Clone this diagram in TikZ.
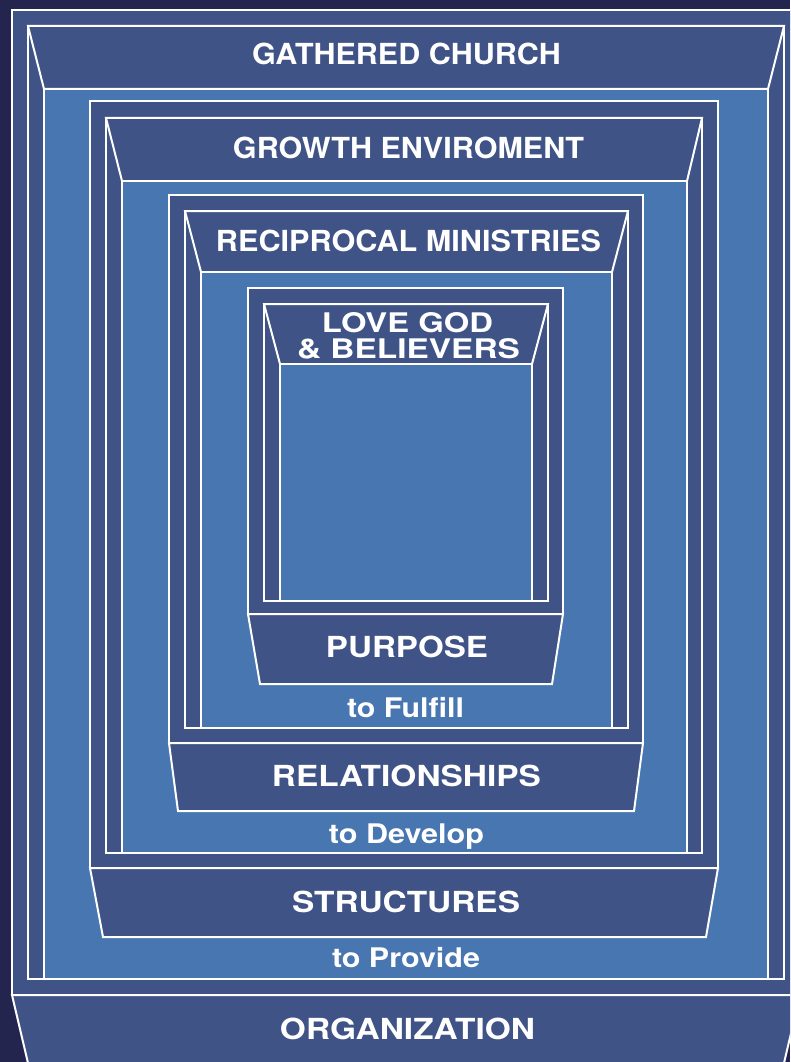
\documentclass[tikz,border=0pt]{standalone}
\usepackage{fontspec}
\setmainfont{TeX Gyre Heros}
\usepackage{graphicx}
\definecolor{bgnavy}{HTML}{24254E}
\definecolor{darkfill}{HTML}{3F5386}
\definecolor{lightfill}{HTML}{4876B1}
\newcommand{\mylab}[2]{\resizebox{#1pt}{\height}{#2}}
\tikzset{
  darkbox/.style={fill=darkfill, draw=white, line width=2pt, line join=miter},
  lightbox/.style={fill=lightfill, draw=white, line width=2pt, line join=miter},
  head/.style={text=white, inner sep=0pt, anchor=base, font=\fontsize{29}{30}\selectfont\bfseries},
  sub/.style={text=white, inner sep=0pt, anchor=base, font=\fontsize{27}{28}\selectfont\bfseries}
}
\begin{document}
\begin{tikzpicture}[x=1pt,y=-1pt]
\useasboundingbox (0,0) rectangle (790,1062);
\begin{scope}
\clip (0,0) rectangle (790,1062);
\fill[bgnavy] (0,0) rectangle (790,1062);
% Level 1: Gathered church
\path[darkbox] (12,10) rectangle (800,995);
\path[darkbox] (28,26) rectangle (784,979);
\path[darkbox] (28,26) -- (784,26) -- (768,89) -- (44,89) -- cycle;
\path[lightbox] (44,89) rectangle (768,979);
\path[darkbox] (12,995) -- (800,995) -- (780,1080) -- (32,1080) -- cycle;
% Level 2: Growth environment
\path[darkbox] (90,101) rectangle (718,868);
\path[darkbox] (106,118) rectangle (702,853);
\path[darkbox] (106,118) -- (702,118) -- (687,181) -- (122,181) -- cycle;
\path[lightbox] (122,181) rectangle (687,853);
\path[darkbox] (90,868) -- (718,868) -- (706,937) -- (103,937) -- cycle;
% Level 3: Reciprocal ministries
\path[darkbox] (169,195) rectangle (643,743);
\path[darkbox] (185,211) rectangle (628,728);
\path[darkbox] (185,211) -- (628,211) -- (612,272) -- (201,272) -- cycle;
\path[lightbox] (201,272) rectangle (612,728);
\path[darkbox] (169,743) -- (643,743) -- (634,811) -- (178,811) -- cycle;
% Level 4: Love God
\path[darkbox] (248,288) rectangle (563,614);
\path[darkbox] (264,304) rectangle (548,601);
\path[darkbox] (264,304) -- (548,304) -- (532,364) -- (280,364) -- cycle;
\path[lightbox] (280,364) rectangle (532,601);
\path[darkbox] (248,614) -- (563,614) -- (552,684) -- (260,684) -- cycle;
\end{scope}
% Labels
\node[head] (gathered) at (406.5,65) {\mylab{309}{GATHERED CHURCH}};
\node[head] (growth) at (408.5,158) {\mylab{351}{GROWTH ENVIROMENT}};
\node[head] (recip) at (408.5,251) {\mylab{385}{RECIPROCAL MINISTRIES}};
\node[sub] (love) at (407.5,332) {\mylab{171}{LOVE GOD}};
\node[sub] (believers) at (408.5,358) {\mylab{223}{\& BELIEVERS}};
\node[head] (purpose) at (407,657) {\mylab{162}{PURPOSE}};
\node[sub] (fulfill) at (405.5,717) {\mylab{117}{to Fulfill}};
\node[head] (relations) at (406.5,786) {\mylab{269}{RELATIONSHIPS}};
\node[sub] (develop) at (406.5,843) {\mylab{155}{to Develop}};
\node[head] (structures) at (406,912) {\mylab{228}{STRUCTURES}};
\node[sub] (provide) at (406,967) {\mylab{148}{to Provide}};
\node[head] (organization) at (407.5,1039) {\mylab{255}{ORGANIZATION}};
\end{tikzpicture}
\end{document}
